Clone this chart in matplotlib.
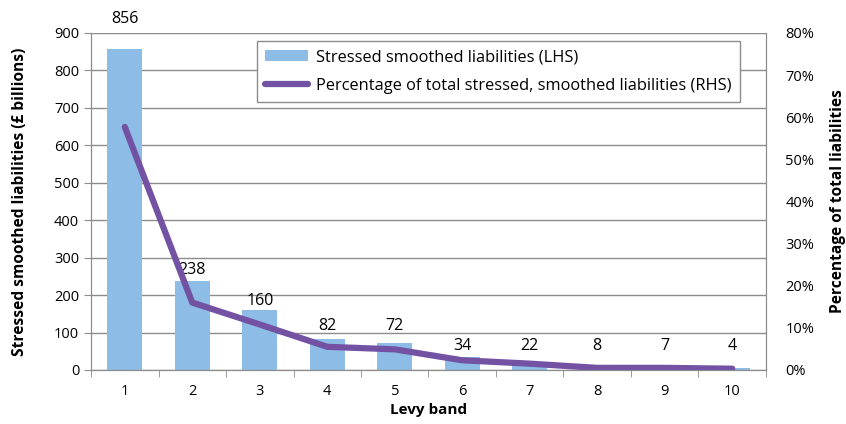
import numpy as np
import matplotlib.pyplot as plt

plt.rcParams['font.family'] = ['Open Sans', 'DejaVu Sans']

bands = ['1', '2', '3', '4', '5', '6', '7', '8', '9', '10']
liabilities = [856, 238, 160, 82, 72, 34, 22, 8, 7, 4]
pct_of_total = [57.7, 16.0, 10.8, 5.5, 4.9, 2.3, 1.5, 0.5, 0.5, 0.3]

# heights (left-axis units) where the value labels sit, clear of bars and line
label_pos = [937, 268, 184, 117, 117, 63, 63, 63, 63, 63]

bar_col = '#8dbde6'
line_col = '#7352a3'
axis_col = '#8c8c8c'

fig = plt.figure(figsize=(8.46, 4.24), dpi=100)
ax = fig.add_axes([0.1076, 0.1274, 0.7978, 0.7948])
ax2 = ax.twinx()

x = np.arange(len(bands))
bars = ax.bar(x, liabilities, width=0.52, color=bar_col, zorder=2,
              label='Stressed smoothed liabilities (LHS)')
for xi, v, yl in zip(x, liabilities, label_pos):
    ax.text(xi, yl, str(v), ha='center', va='center', fontsize=11.5,
            clip_on=False, zorder=6)

line, = ax2.plot(x, pct_of_total, color=line_col, lw=4.5, solid_capstyle='round',
                 solid_joinstyle='round',
                 label='Percentage of total stressed, smoothed liabilities (RHS)')

ax.set_xlim(-0.5, len(bands) - 0.5)
ax.set_ylim(0, 900)
ax.set_yticks(range(0, 901, 100))
ax2.set_ylim(0, 80)
ax2.set_yticks(range(0, 81, 10))
ax2.set_yticklabels([f'{t}%' for t in range(0, 81, 10)])

ax.grid(axis='y', color=axis_col, lw=1, zorder=0)
ax.set_axisbelow(True)

# category ticks sit between bands
ax.set_xticks(x)
ax.set_xticklabels(bands)
ax.set_xticks(np.arange(-0.5, len(bands), 1), minor=True)
ax.tick_params(axis='x', which='major', length=0, labelsize=10.5, pad=10)
ax.tick_params(axis='x', which='minor', length=5, color=axis_col)
ax.tick_params(axis='y', length=5, color=axis_col, labelsize=10.5)
ax2.tick_params(axis='y', length=0, labelsize=10.5, pad=14)

for a in (ax, ax2):
    a.spines['top'].set_visible(False)
    for side in ('left', 'right', 'bottom'):
        a.spines[side].set_color(axis_col)

ax.set_xlabel('Levy band', fontsize=11, fontweight='bold', labelpad=3)
ax.set_ylabel('Stressed smoothed liabilities (£ billions)', fontsize=11.2,
              fontweight='bold', labelpad=19)
ax2.set_ylabel('Percentage of total liabilities', fontsize=11.2,
               fontweight='bold', labelpad=11)

leg = ax.legend([bars, line], [bars.get_label(), line.get_label()],
                loc='upper right', bbox_to_anchor=(0.9615, 0.976),
                borderaxespad=0, fontsize=11.8,
                fancybox=False, framealpha=1, edgecolor=axis_col,
                handlelength=2.6, handletextpad=0.5, borderpad=0.5,
                labelspacing=0.75)
leg.get_frame().set_linewidth(1)
leg.set_zorder(5)

fig.savefig('out.png', dpi=100)
